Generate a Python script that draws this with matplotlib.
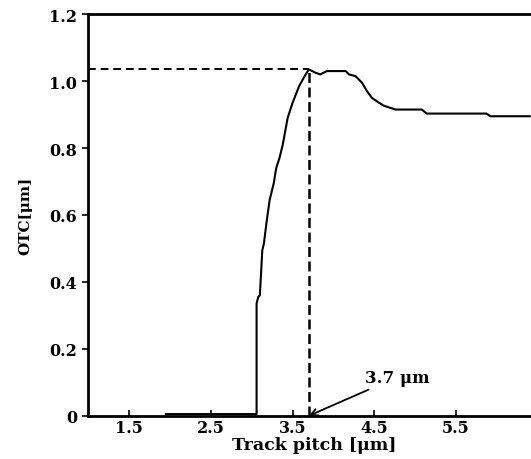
import matplotlib
matplotlib.use("Agg")
import matplotlib.pyplot as plt

# data (track pitch in um, OTC in um)
pitch = [1.95, 3.06, 3.06, 3.08, 3.10, 3.13, 3.15, 3.18, 3.22, 3.27, 3.30, 3.34,
         3.38, 3.44, 3.50, 3.58, 3.66, 3.70, 3.74, 3.78, 3.84, 3.92, 4.15, 4.19,
         4.27, 4.35, 4.41, 4.47, 4.53, 4.61, 4.76, 5.08, 5.14, 5.87, 5.92, 6.40]
otc = [0.005, 0.005, 0.335, 0.355, 0.36, 0.495, 0.515, 0.575, 0.645, 0.695, 0.74, 0.77,
       0.81, 0.89, 0.935, 0.985, 1.02, 1.035, 1.03, 1.025, 1.02, 1.03, 1.03, 1.02,
       1.015, 0.995, 0.97, 0.95, 0.94, 0.927, 0.915, 0.915, 0.903, 0.903, 0.895, 0.895]

opt_pitch = 3.7
opt_otc = 1.035

xticks = [1.5, 2.5, 3.5, 4.5, 5.5]
yticks = [0, 0.2, 0.4, 0.6, 0.8, 1.0, 1.2]
ytick_labels = ["0", "0.2", "0.4", "0.6", "0.8", "1.0", "1.2"]

serif = "DejaVu Serif"

fig = plt.figure(figsize=(5.31, 4.60), dpi=100)
ax = fig.add_axes([0.166, 0.094, 0.85, 0.873])

ax.plot(pitch, otc, color="black", lw=1.5)

# dashed guide lines to the peak
ax.plot([1.0, opt_pitch], [opt_otc, opt_otc], color="black", lw=1.4, ls=(0, (4, 2.5)))
ax.plot([opt_pitch, opt_pitch], [0, opt_otc], color="black", lw=1.8, ls=(0, (4, 1.8)))

ax.annotate("3.7 μm", xy=(opt_pitch, 0.0), xytext=(4.38, 0.115),
            fontsize=12, fontweight="bold", family=serif, va="center", ha="left",
            arrowprops=dict(arrowstyle="->", color="black", lw=1.3,
                            shrinkA=2, shrinkB=0))

ax.set_xlim(1.0, 6.52)
ax.set_ylim(0, 1.2)
ax.set_xticks(xticks)
ax.set_yticks(yticks)
ax.set_yticklabels(ytick_labels)

for lab in ax.get_xticklabels() + ax.get_yticklabels():
    lab.set_fontfamily(serif)
    lab.set_fontweight("bold")
    lab.set_fontsize(11.5)

ax.tick_params(axis="x", direction="in", length=4, width=1.2, pad=2)
ax.tick_params(axis="y", direction="out", length=4, width=1.2, pad=4)

for side in ["left", "bottom", "top"]:
    ax.spines[side].set_linewidth(2)
ax.spines["right"].set_visible(False)

ax.set_xlabel("Track pitch [μm]", fontsize=12.5, fontweight="bold",
              family=serif, labelpad=0)
ax.set_ylabel("OTC[μm]", fontsize=11, fontweight="bold", family=serif, labelpad=12)

fig.savefig("out.png", dpi=100)
